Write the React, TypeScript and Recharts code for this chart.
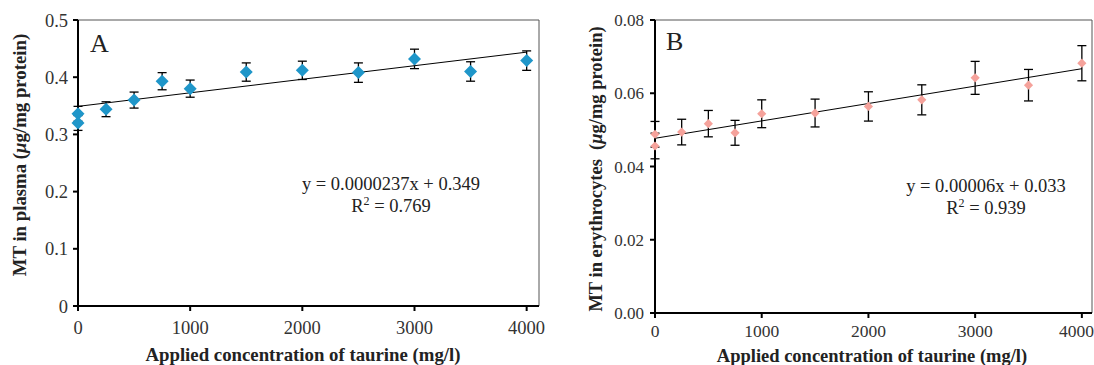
import { ScatterChart, Scatter, XAxis, YAxis, ErrorBar, ReferenceLine, Label } from 'recharts';

const concentration = [0, 0, 250, 500, 750, 1000, 1500, 2000, 2500, 3000, 3500, 4000];
const plasmaMT = [0.336, 0.320, 0.344, 0.360, 0.393, 0.380, 0.409, 0.412, 0.408, 0.432, 0.410, 0.429];
const plasmaSD = [0.013, 0.013, 0.013, 0.014, 0.015, 0.015, 0.016, 0.016, 0.017, 0.017, 0.017, 0.017];
const erythMT = [0.0488, 0.0456, 0.0494, 0.0517, 0.0492, 0.0544, 0.0546, 0.0564, 0.0582, 0.0642, 0.0622, 0.0682];
const erythSD = [0.0035, 0.0035, 0.0035, 0.0036, 0.0034, 0.0038, 0.0038, 0.004, 0.0041, 0.0045, 0.0043, 0.0048];

const trendX = [0, 4000];
const trendPlasma = [0.349, 0.4438];
const trendEryth = [0.0477, 0.0667];

const xTicks = [0, 1000, 2000, 3000, 4000];
const yTicksA = [0, 0.1, 0.2, 0.3, 0.4, 0.5];
const yTicksB = [0, 0.02, 0.04, 0.06, 0.08];

const serif = '"Liberation Serif", "Times New Roman", serif';

const plasmaData = concentration.map((x, i) => ({ x, y: plasmaMT[i], err: plasmaSD[i] }));
const erythData = concentration.map((x, i) => ({ x, y: erythMT[i], err: erythSD[i] }));
const trendA = trendX.map((x, i) => ({ x, y: trendPlasma[i] }));
const trendB = trendX.map((x, i) => ({ x, y: trendEryth[i] }));

const diamond = (half: number, fill: string) => (props: any) => {
  const { cx, cy } = props;
  return (
    <polygon
      points={`${cx},${cy - half} ${cx + half},${cy} ${cx},${cy + half} ${cx - half},${cy}`}
      fill={fill}
    />
  );
};

const noDot = () => <g />;

const tickStyle = { fontSize: 18.5, fill: '#333', fontFamily: serif };

const PanelA = () => (
  <ScatterChart width={545} height={365} margin={{ top: 20, right: 6, left: 0, bottom: 0 }}>
    <XAxis
      type="number"
      dataKey="x"
      domain={[0, 4110]}
      ticks={xTicks}
      stroke="#000"
      strokeWidth={2}
      tickSize={5}
      tickMargin={10}
      height={59}
      tick={tickStyle}
    >
      <Label
        content={() => (
          <text x={303} y={361} textAnchor="middle" fontFamily={serif} fontWeight="bold" fontSize={18.8} fill="#222">
            Applied concentration of taurine (mg/l)
          </text>
        )}
      />
    </XAxis>
    <YAxis
      type="number"
      dataKey="y"
      domain={[0, 0.5]}
      ticks={yTicksA}
      stroke="#000"
      strokeWidth={2}
      tickSize={5}
      tickMargin={5}
      width={78}
      tick={tickStyle}
      tickFormatter={(v: number) => (v === 0 ? '0' : v.toFixed(1))}
    >
      <Label
        content={() => (
          <text
            x={26}
            y={155}
            transform="rotate(-90 26 155)"
            textAnchor="middle"
            fontFamily={serif}
            fontWeight="bold"
            fontSize={18.8}
            fill="#222"
          >
            MT in plasma (<tspan fontStyle="italic">μ</tspan>g/mg protein)
          </text>
        )}
      />
    </YAxis>
    <ReferenceLine y={0.5} stroke="#555" strokeWidth={1} />
    <ReferenceLine x={4110} stroke="#555" strokeWidth={1} />
    <Scatter data={trendA} line={{ stroke: '#000', strokeWidth: 1 }} shape={noDot} isAnimationActive={false} />
    <Scatter data={plasmaData} shape={noDot} isAnimationActive={false}>
      <ErrorBar dataKey="err" direction="y" width={4.5} stroke="#000" strokeWidth={1.3} />
    </Scatter>
    <Scatter data={plasmaData} shape={diamond(6.5, '#1f96c9')} isAnimationActive={false} />
  </ScatterChart>
);

const PanelB = () => (
  <ScatterChart width={549} height={365} margin={{ top: 20, right: 2, left: 0, bottom: 0 }}>
    <XAxis
      type="number"
      dataKey="x"
      domain={[0, 4095]}
      ticks={xTicks}
      stroke="#000"
      strokeWidth={2}
      tickSize={5}
      tickMargin={7}
      height={52}
      tick={{ ...tickStyle, fontSize: 17.5 }}
    >
      <Label
        content={() => (
          <text x={327} y={362} textAnchor="middle" fontFamily={serif} fontWeight="bold" fontSize={18.5} fill="#222">
            Applied concentration of taurine (mg/l)
          </text>
        )}
      />
    </XAxis>
    <YAxis
      type="number"
      dataKey="y"
      domain={[0, 0.08]}
      ticks={yTicksB}
      stroke="#000"
      strokeWidth={2}
      tickSize={5}
      tickMargin={6}
      width={110}
      tick={{ ...tickStyle, fontSize: 17 }}
      tickFormatter={(v: number) => v.toFixed(2)}
    >
      <Label
        content={() => (
          <text
            x={57}
            y={169}
            transform="rotate(-90 57 169)"
            textAnchor="middle"
            fontFamily={serif}
            fontWeight="bold"
            fontSize={18.5}
            fill="#222"
            style={{ whiteSpace: 'pre' }}
          >
            MT in erythrocytes  (<tspan fontStyle="italic">μ</tspan>g/mg protein)
          </text>
        )}
      />
    </YAxis>
    <ReferenceLine y={0.08} stroke="#555" strokeWidth={1} />
    <ReferenceLine x={4095} stroke="#555" strokeWidth={1} />
    <Scatter data={trendB} line={{ stroke: '#000', strokeWidth: 1 }} shape={noDot} isAnimationActive={false} />
    <Scatter data={erythData} shape={noDot} isAnimationActive={false}>
      <ErrorBar dataKey="err" direction="y" width={4.5} stroke="#000" strokeWidth={1.3} />
    </Scatter>
    <Scatter data={erythData} shape={diamond(4.6, '#f5a29b')} isAnimationActive={false} />
  </ScatterChart>
);

const textStyle = { fontFamily: serif, fontSize: 18.5, fill: '#222' };

export default function App() {
  return (
    <div style={{ position: 'absolute', left: 0, top: 0, width: 1094, height: 365, background: '#fff', overflow: 'hidden' }}>
      <div style={{ position: 'absolute', left: 0, top: 0 }}>
        <PanelA />
      </div>
      <div style={{ position: 'absolute', left: 545, top: 0 }}>
        <PanelB />
      </div>
      <svg width={1094} height={365} style={{ position: 'absolute', left: 0, top: 0, pointerEvents: 'none' }}>
        <text x={90} y={52} fontFamily={serif} fontSize={26} fill="#222">A</text>
        <text x={666} y={50} fontFamily={serif} fontSize={26} fill="#222">B</text>
        <text x={391} y={190} textAnchor="middle" {...textStyle}>y = 0.0000237x + 0.349</text>
        <text x={391} y={212} textAnchor="middle" {...textStyle}>
          R<tspan fontSize={12} dy={-7}>2</tspan><tspan dy={7}> = 0.769</tspan>
        </text>
        <text x={986} y={192} textAnchor="middle" {...textStyle}>y = 0.00006x + 0.033</text>
        <text x={986} y={214} textAnchor="middle" {...textStyle}>
          R<tspan fontSize={12} dy={-7}>2</tspan><tspan dy={7}> = 0.939</tspan>
        </text>
      </svg>
    </div>
  );
}
